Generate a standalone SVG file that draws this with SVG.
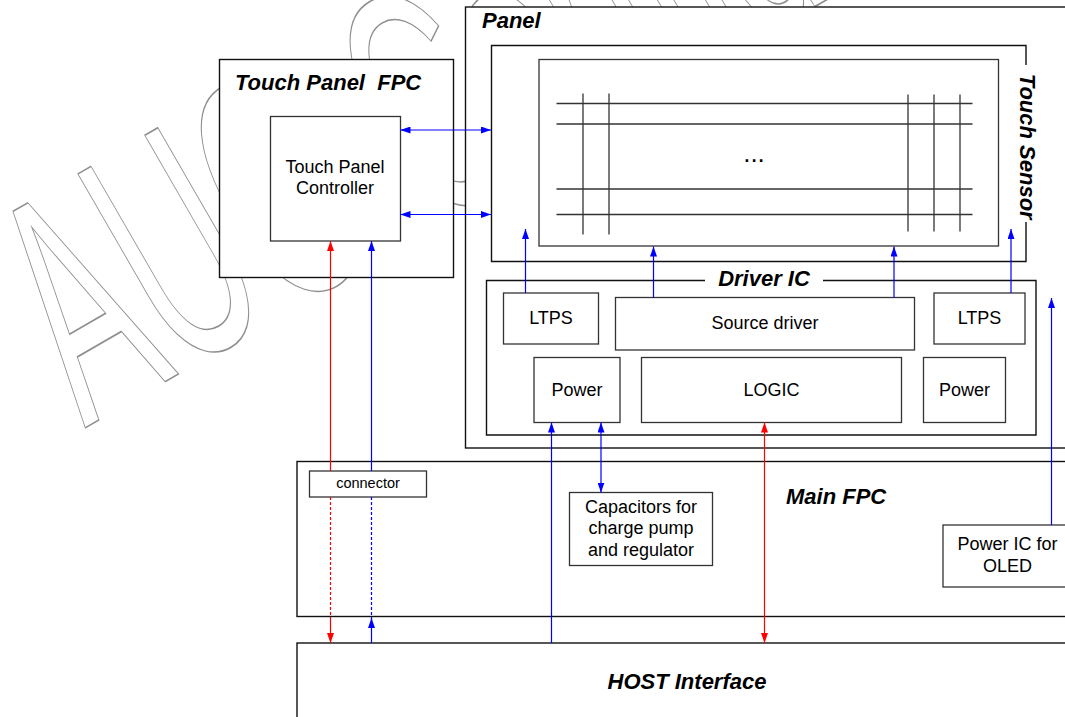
<svg xmlns="http://www.w3.org/2000/svg" width="1065" height="717" viewBox="0 0 1065 717">
<style>
.box{fill:#fff;stroke:#111;stroke-width:1.4}
.ibox{fill:#fff;stroke:#333;stroke-width:1.3}
.edge{fill:none;stroke:#111;stroke-width:1.4}
.grid{stroke:#333;stroke-width:1.3}
.t{font-family:"Liberation Sans",Arial,sans-serif;font-size:18px;fill:#000}
.h{font-family:"Liberation Sans",Arial,sans-serif;font-size:22px;font-weight:bold;font-style:italic;fill:#000;white-space:pre}
.b{fill:none;stroke:#0000ff;stroke-width:1.2}
.r{fill:none;stroke:#ff0000;stroke-width:1.2}
.dash{stroke-dasharray:3,2}
.wm{font-family:"Liberation Sans",Arial,sans-serif;font-size:325px;fill:none;stroke:#8f8f8f;stroke-width:1.3}
</style>
<defs>
<marker id="ab" viewBox="0 0 10 7" refX="10" refY="3.5" markerWidth="10" markerHeight="7" markerUnits="userSpaceOnUse" orient="auto-start-reverse"><path d="M0,0 L10,3.5 L0,7z" fill="#0000ff"/></marker>
<marker id="ar" viewBox="0 0 10 7" refX="10" refY="3.5" markerWidth="10" markerHeight="7" markerUnits="userSpaceOnUse" orient="auto-start-reverse"><path d="M0,0 L10,3.5 L0,7z" fill="#ff0000"/></marker>
</defs>
<rect width="1065" height="717" fill="#fff"/>
<g id="watermark">
<text class="wm" vector-effect="non-scaling-stroke" transform="translate(85,428) rotate(-30) scale(0.5,1)">AUO Confidential</text>
</g>
<g id="host">
<rect class="box" x="297" y="643" width="800" height="100"/>
<text class="h" x="687" y="688.5" text-anchor="middle">HOST Interface</text>
</g>
<g id="main-fpc">
<rect class="box" x="297" y="461.5" width="800" height="155"/>
<text class="h" x="786" y="503.5">Main FPC</text>
</g>
<g id="panel">
<rect class="box" x="465.5" y="7" width="640" height="441"/>
<text class="h" x="482" y="27.5">Panel</text>
</g>
<g id="touch-sensor">
<path class="edge" d="M1026,65 V45.5 H491.5 V261.5 H1026 V222"/>
<text class="h" text-anchor="middle" transform="translate(1020,146.7) rotate(90)">Touch Sensor</text>
</g>
<g id="display">
<rect class="ibox" x="539" y="59.5" width="459.5" height="186.5"/>
<g class="grid">
<line x1="556.5" y1="103.5" x2="972.5" y2="103.5"/>
<line x1="556.5" y1="124" x2="972.5" y2="124"/>
<line x1="556.5" y1="189" x2="972.5" y2="189"/>
<line x1="556.5" y1="214.5" x2="972.5" y2="214.5"/>
<line x1="583" y1="93.5" x2="583" y2="234.5"/>
<line x1="609" y1="93.5" x2="609" y2="234.5"/>
<line x1="908" y1="94.5" x2="908" y2="231.5"/>
<line x1="934" y1="94.5" x2="934" y2="231.5"/>
<line x1="960" y1="94.5" x2="960" y2="231.5"/>
</g>
<text class="t" x="754" y="161.5" text-anchor="middle" style="font-size:26px">...</text>
</g>
<g id="driver-ic">
<path class="edge" d="M705,280.5 H486.5 V435 H1036 V280.5 H823"/>
<text class="h" x="764" y="286" text-anchor="middle">Driver IC</text>
</g>
<g id="ltps-left">
<rect class="ibox" x="503.5" y="293" width="95" height="51"/>
<text class="t" x="551" y="324" text-anchor="middle">LTPS</text>
</g>
<g id="source-driver">
<rect class="ibox" x="615.5" y="297.5" width="299" height="52.5"/>
<text class="t" x="765" y="329" text-anchor="middle">Source driver</text>
</g>
<g id="ltps-right">
<rect class="ibox" x="934" y="293" width="91" height="51"/>
<text class="t" x="979.5" y="324" text-anchor="middle">LTPS</text>
</g>
<g id="power-left">
<rect class="ibox" x="534" y="357.5" width="86" height="65"/>
<text class="t" x="577" y="395.5" text-anchor="middle">Power</text>
</g>
<g id="logic">
<rect class="ibox" x="641.5" y="357.5" width="260" height="65"/>
<text class="t" x="771.5" y="396" text-anchor="middle">LOGIC</text>
</g>
<g id="power-right">
<rect class="ibox" x="923.5" y="357.5" width="82" height="65"/>
<text class="t" x="964.5" y="395.5" text-anchor="middle">Power</text>
</g>
<g id="touch-panel-fpc">
<rect class="box" x="219.5" y="59.5" width="234" height="218"/>
<text class="h" x="235" y="90">Touch Panel  FPC</text>
</g>
<g id="touch-panel-controller">
<rect class="ibox" x="270.5" y="116.5" width="130" height="124.5"/>
<text class="t" x="335" y="172.5" text-anchor="middle">Touch Panel</text>
<text class="t" x="335" y="194" text-anchor="middle">Controller</text>
</g>
<g id="capacitors">
<rect class="ibox" x="569.5" y="492.5" width="143" height="73"/>
<text class="t" x="641" y="512.5" text-anchor="middle">Capacitors for</text>
<text class="t" x="641" y="534" text-anchor="middle">charge pump</text>
<text class="t" x="641" y="555.5" text-anchor="middle">and regulator</text>
</g>
<g id="power-ic-oled">
<rect class="ibox" x="943" y="525" width="140" height="62"/>
<text class="t" x="1007.5" y="550" text-anchor="middle">Power IC for</text>
<text class="t" x="1007.5" y="572" text-anchor="middle">OLED</text>
</g>
<g id="connector">
<rect class="ibox" x="309.5" y="471" width="117" height="26"/>
<text class="t" x="368" y="488" text-anchor="middle" style="font-size:14.5px">connector</text>
</g>
<g id="connectors">
<path class="b" d="M400.5,130 H491" marker-start="url(#ab)" marker-end="url(#ab)"/>
<path class="b" d="M400.5,214.5 H491" marker-start="url(#ab)" marker-end="url(#ab)"/>
<path class="r" d="M330.5,471 V241" marker-end="url(#ar)"/>
<path class="r dash" d="M330.5,497 V617"/>
<path class="r" d="M330.5,617 V643" marker-end="url(#ar)"/>
<path class="b" d="M371.5,471 V241" marker-end="url(#ab)"/>
<path class="b dash" d="M371.5,497 V620"/>
<path class="b" d="M371.5,643 V618" marker-end="url(#ab)"/>
<path class="b" d="M551.5,643 V422.5" marker-end="url(#ab)"/>
<path class="b" d="M601,422.5 V492.5" marker-start="url(#ab)" marker-end="url(#ab)"/>
<path class="r" d="M764.5,422.5 V643" marker-start="url(#ar)" marker-end="url(#ar)"/>
<path class="b" d="M1051.5,525 V298" marker-end="url(#ab)"/>
<path class="b" d="M525.5,293 V229" marker-end="url(#ab)"/>
<path class="b" d="M653.5,297.5 V246.5" marker-end="url(#ab)"/>
<path class="b" d="M894,297.5 V246.5" marker-end="url(#ab)"/>
<path class="b" d="M1011,293 V229" marker-end="url(#ab)"/>
</g>
</svg>
